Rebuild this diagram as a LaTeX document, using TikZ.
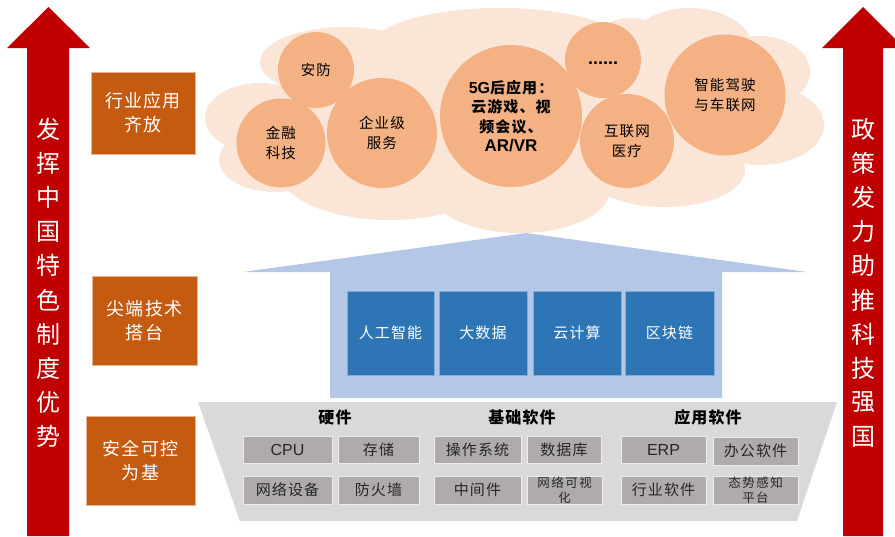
\documentclass[tikz,border=0pt]{standalone}
\usepackage{fontspec}
\setmainfont{Liberation Sans}
\newfontfamily\cjk[LetterSpace=7]{Noto Sans CJK SC}
\newfontfamily\cjkwide[LetterSpace=12]{Noto Sans CJK SC}
\newfontfamily\cjkplain{Noto Sans CJK SC}
\newfontfamily\arial{Liberation Sans}
\definecolor{arrowred}{HTML}{C00000}
\definecolor{boxorange}{HTML}{C55A11}
\definecolor{cloudpeach}{HTML}{FBE5D6}
\definecolor{circpeach}{HTML}{F4B183}
\definecolor{roofblue}{HTML}{B4C7E7}
\definecolor{techblue}{HTML}{2E75B6}
\definecolor{basegray}{HTML}{D9D9D9}
\definecolor{cellgray}{HTML}{AFABAB}
\begin{document}
\begin{tikzpicture}[x=1pt,y=-1pt,
 lbl/.style={fill=boxorange, draw=boxorange!45!white, line width=0.6pt, text=white, align=center,
   font=\cjk\fontsize{18}{24}\selectfont, inner sep=0pt},
 bubble/.style={circle, fill=circpeach, inner sep=0pt, align=center, text=black,
   font=\cjk\fontsize{14.5}{20.5}\selectfont},
 tech/.style={fill=techblue, draw=techblue!60!white, line width=0.5pt, text=white,
   font=\cjk\fontsize{15}{16}\selectfont, inner sep=0pt, minimum height=84pt},
 cell/.style={fill=cellgray, draw=basegray!50!white, line width=0.6pt, text=black!85, align=center,
   font=\cjk\fontsize{15}{16}\selectfont, inner sep=0pt},
 small/.style={font=\cjkwide\fontsize{12.5}{15}\selectfont},
 latin/.style={font=\arial\fontsize{16}{18}\selectfont},
 heading/.style={font=\cjk\bfseries\fontsize{16}{18}\selectfont, text=black, inner sep=0pt},
 sidechar/.style={text=white, font=\cjkplain\fontsize{24}{26}\selectfont, inner sep=0pt},
]
\useasboundingbox (0,0) rectangle (895,536);
\clip (0,0) rectangle (895,536);

% red arrows
\fill[arrowred] (27,536) -- (27,48) -- (7,48) -- (48.5,7) -- (90,48) -- (69,48) -- (69,536) -- cycle;
\fill[arrowred] (843,536) -- (843,48) -- (822,48) -- (863,7) -- (904,48) -- (883,48) -- (883,536) -- cycle;
\foreach \c [count=\i] in {发,挥,中,国,特,色,制,度,优,势}
  \node[sidechar] (lt\i) at (48,{129+34.2*(\i-1)}) {\c};
\foreach \c [count=\i] in {政,策,发,力,助,推,科,技,强,国}
  \node[sidechar] (rt\i) at (863,{129+34.2*(\i-1)}) {\c};

% left labels
\node[lbl, minimum width=104pt, minimum height=82pt] (lab1) at (143,113) {行业应用\\齐放};
\node[lbl, minimum width=105pt, minimum height=89pt] (lab2) at (144.5,320.5) {尖端技术\\搭台};
\node[lbl, minimum width=109pt, minimum height=89pt] (lab3) at (140.5,460.5) {安全可控\\为基};

% cloud
\fill[cloudpeach]
 (260,118) ellipse [x radius=55pt, y radius=35pt]
 (275,160) ellipse [x radius=56pt, y radius=32pt]
 (345,62) ellipse [x radius=85pt, y radius=35pt]
 (500,48) ellipse [x radius=130pt, y radius=40pt]
 (690,48) ellipse [x radius=62pt, y radius=40pt]
 (630,35) ellipse [x radius=30pt, y radius=17pt]
 (760,72) ellipse [x radius=50pt, y radius=36pt]
 (760,125) ellipse [x radius=64pt, y radius=40pt]
 (390,172) ellipse [x radius=110pt, y radius=48pt]
 (520,190) ellipse [x radius=90pt, y radius=43pt]
 (665,170) ellipse [x radius=80pt, y radius=37pt]
 (520,115) ellipse [x radius=240pt, y radius=75pt];

% bubbles
\node[bubble, minimum size=76pt] (anfang) at (316,70) {安防};
\node[bubble, minimum size=89pt] (jinrong) at (281,143) {金融\\科技};
\node[bubble, minimum size=110pt] (qiye) at (382,133) {企业级\\服务};
\node[bubble, minimum size=142pt, font=\cjk\bfseries\fontsize{15}{19.5}\selectfont] (fiveg) at (511,116)
  {{\arial\bfseries\fontsize{16}{19.5}\selectfont 5G}后应用：\\云游戏、视\\频会议、\\{\arial\bfseries\fontsize{17}{19.5}\selectfont AR/VR}};
\node[bubble, minimum size=76pt] (more) at (603,60) {};
\node[font=\arial\bfseries\fontsize{18}{20}\selectfont, inner sep=0pt, anchor=base] (dots) at (603,64) {......};
\node[bubble, minimum size=94pt] (yiliao) at (627,141) {互联网\\医疗};
\node[bubble, minimum size=121pt] (jiashi) at (725,95) {智能驾驶\\与车联网};

% blue house
\fill[roofblue] (243,272) -- (526,233) -- (807,272) -- (722,272) -- (722,398) -- (330,398) -- (330,272) -- cycle;
\node[tech, minimum width=87pt] (ai) at (390.5,333) {人工智能};
\node[tech, minimum width=88pt] (bigdata) at (483,333) {大数据};
\node[tech, minimum width=88pt] (cloudc) at (577,333) {云计算};
\node[tech, minimum width=89pt] (chain) at (669.5,333) {区块链};

% gray base
\fill[basegray] (198,402) -- (837,402) -- (797,521) -- (240,521) -- cycle;
\node[heading] (hw) at (335,417) {硬件};
\node[heading] (bsw) at (522,417) {基础软件};
\node[heading] (asw) at (708,417) {应用软件};

\node[cell, minimum width=89pt, minimum height=27pt, latin] (cpu) at (287.5,449.5) {CPU};
\node[cell, minimum width=81pt, minimum height=27pt] (store) at (378.5,449.5) {存储};
\node[cell, minimum width=87pt, minimum height=27pt] (os) at (477.5,449.5) {操作系统};
\node[cell, minimum width=74pt, minimum height=27pt] (db) at (564,449.5) {数据库};
\node[cell, minimum width=85pt, minimum height=27pt, latin] (erp) at (663.5,449.5) {ERP};
\node[cell, minimum width=85pt, minimum height=28pt] (office) at (755.5,451) {办公软件};

\node[cell, minimum width=89pt, minimum height=28pt] (netdev) at (287.5,490) {网络设备};
\node[cell, minimum width=81pt, minimum height=28pt] (fw) at (378.5,490) {防火墙};
\node[cell, minimum width=87pt, minimum height=28pt] (mid) at (477.5,490) {中间件};
\node[cell, minimum width=75pt, minimum height=28pt, small] (vis) at (564.5,490) {网络可视\\化};
\node[cell, minimum width=85pt, minimum height=28pt] (indsw) at (663.5,490) {行业软件};
\node[cell, minimum width=85pt, minimum height=28pt, small] (aware) at (755.5,490) {态势感知\\平台};
\end{tikzpicture}
\end{document}
